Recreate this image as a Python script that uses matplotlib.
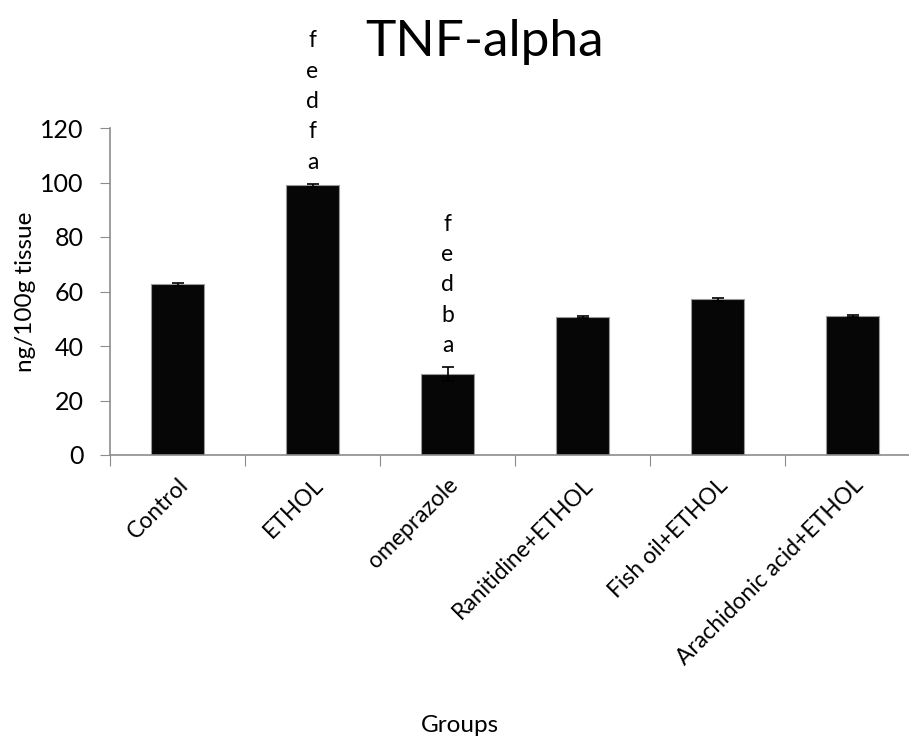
import numpy as np
import matplotlib
matplotlib.use("Agg")
import matplotlib.pyplot as plt

# dados do grafico
grupos = ["Control", "ETHOL", "omeprazole", "Ranitidine+ETHOL", "Fish oil+ETHOL", "Arachidonic acid+ETHOL"]
valores = [62.6, 99.0, 29.6, 50.6, 57.1, 51.0]
erros = [0.5, 0.5, 2.6, 0.5, 0.5, 0.5]
letras = ["", "f\ne\nd\nf\na", "f\ne\nd\nb\na", "", "", ""]

plt.rcParams["font.family"] = ["Lato", "DejaVu Sans"]
cinza = "#8c8c8c"

fig = plt.figure(figsize=(9.09, 7.40), dpi=100)
ax = fig.add_axes([110 / 909, 285 / 740, 810 / 909, 327 / 740])

x = np.arange(len(grupos))
ax.bar(x, valores, width=0.39, color="#060606", edgecolor="#9a9a9a", linewidth=0.8, zorder=2)
ax.errorbar(x, valores, yerr=erros, fmt="none", ecolor="black", elinewidth=1.2, capsize=4.5, capthick=1.2, zorder=3)

for xi, v, e, txt in zip(x, valores, erros, letras):
    if txt:
        ax.annotate(txt, (xi, v + e), xytext=(0, 8), textcoords="offset points",
                    ha="center", va="bottom", fontsize=16.5, linespacing=1.55)

ax.set_xlim(-0.5, 5.5)
ax.set_ylim(0, 120)
ax.set_yticks(range(0, 121, 20))
ax.tick_params(axis="y", direction="out", length=7, color=cinza, labelsize=18, pad=12)

# marcas do eixo x entre as categorias, rotulos no centro
ax.set_xticks(np.arange(-0.5, 5.6, 1))
ax.set_xticklabels([])
ax.tick_params(axis="x", which="major", direction="out", length=8, color=cinza)
ax.set_xticks(x, minor=True)
ax.set_xticklabels(grupos, minor=True, rotation=45, ha="right", rotation_mode="anchor", fontsize=16.5)
ax.tick_params(axis="x", which="minor", length=0, pad=14)

for s in ["top", "right"]:
    ax.spines[s].set_visible(False)
for s in ["left", "bottom"]:
    ax.spines[s].set_color(cinza)
    ax.spines[s].set_linewidth(1.2)

ax.set_ylabel("ng/100g tissue", fontsize=17.5, labelpad=3)
fig.text(485 / 909, 1 - 42 / 740, "TNF-alpha", fontsize=37, ha="center", va="center")
fig.text(460 / 909, 1 - 725 / 740, "Groups", fontsize=17.5, ha="center", va="center")

plt.savefig("out.png", dpi=100)
